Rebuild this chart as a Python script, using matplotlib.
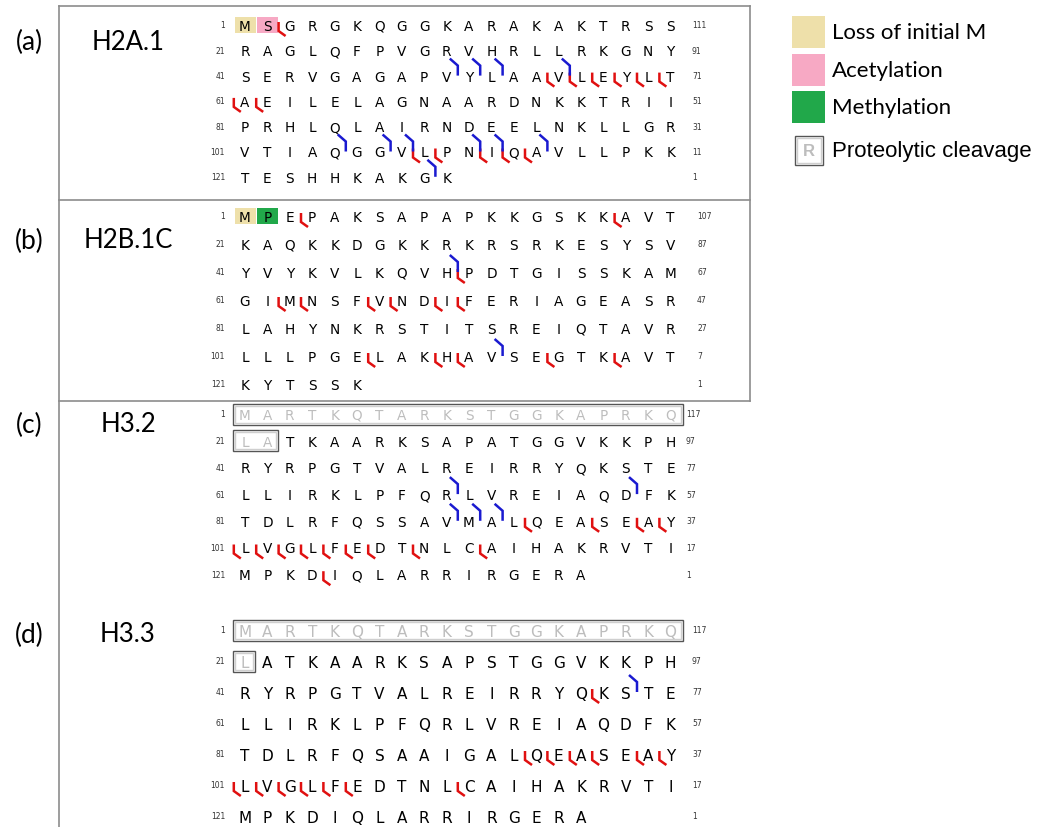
import matplotlib
matplotlib.use("Agg")
import matplotlib.pyplot as plt
from matplotlib.patches import Rectangle

# ---- data ----
names = ["H2A.1", "H2B.1C", "H3.2", "H3.3"]
tags = ["(a)", "(b)", "(c)", "(d)"]

seq_a = "MSGRGKQGGKARAKAKTRSSRAGLQFPVGRVHRLLRKGNYSERVGAGAPVYLAAVLEYLTAEILELAGNAARDNKKTRIIPRHLQLAIRNDEELNKLLGRVTIAQGGVLPNIQAVLLPKKTESHHKAKGK"
seq_b = "MPEPAKSAPAPKKGSKKAVTKAQKKDGKKRKRSRKESYSVYVYKVLKQVHPDTGISSKAMGIMNSFVNDIFERIAGEASRLAHYNKRSTITSREIQTAVRLLLPGELAKHAVSEGTKAVTKYTSSK"
seq_c = "MARTKQTARKSTGGKAPRKQLATKAARKSAPATGGVKKPHRYRPGTVALREIRRYQKSTELLIRKLPFQRLVREIAQDFKTDLRFQSSAVMALQEASEAYLVGLFEDTNLCAIHAKRVTIMPKDIQLARRIRGERA"
seq_d = "MARTKQTARKSTGGKAPRKQLATKAARKSAPSTGGVKKPHRYRPGTVALREIRRYQKSTELLIRKLPFQRLVREIAQDFKTDLRFQSAAIGALQEASEAYLVGLFEDTNLCAIHAKRVTIMPKDIQLARRIRGERA"

left_nums = [1, 21, 41, 61, 81, 101, 121]
right_a = [111, 91, 71, 51, 31, 11, 1]
right_b = [107, 87, 67, 47, 27, 7, 1]
right_c = [117, 97, 77, 57, 37, 17, 1]
right_d = [117, 97, 77, 57, 37, 17, 1]

# cleavage sites: gap g lies between residue g and g+1
red_a = [2, 54, 55, 56, 57, 58, 59, 60, 61, 108, 109, 111, 112, 113]
blue_a = [50, 51, 52, 55, 105, 107, 108, 111, 112, 114, 129]
red_b = [3, 17, 50, 62, 63, 66, 67, 69, 70, 106, 109, 110, 114, 117]
blue_b = [50, 112]
red_c = [93, 96, 98, 99, 100, 101, 102, 103, 104, 105, 106, 108, 111, 124]
blue_c = [70, 78, 90, 91, 92]
red_d = [56, 93, 94, 95, 96, 98, 99, 100, 101, 102, 103, 104, 105, 110]
blue_d = [58]

# modified residues (1-based) and N-terminal cleaved length
mods_a = {1: "loss", 2: "acet"}
mods_b = {1: "loss", 2: "meth"}
cleaved_c = 22
cleaved_d = 21

legend_labels = ["Loss of initial M", "Acetylation", "Methylation", "Proteolytic cleavage"]

# ---- styles / layout ----
colors = {"loss": "#eee0aa", "acet": "#f7a9c4", "meth": "#21a84a"}
RED = "#e01010"
BLUE = "#1a1ad0"
X0 = 245
DX = 22.4
PER_ROW = 20

panels = [
    dict(seq=seq_a, right=right_a, red=red_a, blue=blue_a, mods=mods_a, cut=0,
         y0=26, dy=25.3, fs=9.8, rx=692, ty=42),
    dict(seq=seq_b, right=right_b, red=red_b, blue=blue_b, mods=mods_b, cut=0,
         y0=217, dy=28.0, fs=9.8, rx=697, ty=241),
    dict(seq=seq_c, right=right_c, red=red_c, blue=blue_c, mods={}, cut=cleaved_c,
         y0=415, dy=26.7, fs=9.8, rx=686, ty=425),
    dict(seq=seq_d, right=right_d, red=red_d, blue=blue_d, mods={}, cut=cleaved_d,
         y0=631, dy=31.0, fs=11.0, rx=692, ty=635),
]

fig = plt.figure(figsize=(10.37, 8.28), dpi=100)
ax = fig.add_axes([0, 0, 1, 1])
ax.set_xlim(0, 1037)
ax.set_ylim(828, 0)
ax.axis("off")

# frame
fc = "#8c8c8c"
ax.plot([59, 59], [7, 828], color=fc, lw=1.2)
ax.plot([750, 750], [7, 402], color=fc, lw=1.2)
for yy in [7, 201, 402]:
    ax.plot([59, 750], [yy, yy], color=fc, lw=1.2)


def pos(p, i):
    # i is 1-based residue number
    r = (i - 1) // PER_ROW
    c = (i - 1) % PER_ROW
    return X0 + c * DX, p["y0"] + r * p["dy"]


def cleave_box(x1, x2, y, h):
    ax.add_patch(Rectangle((x1, y - h / 2), x2 - x1, h, fill=False,
                           ec="#555555", lw=1.0, zorder=3))
    ax.add_patch(Rectangle((x1 + 2, y - h / 2 + 2), x2 - x1 - 4, h - 4, fill=False,
                           ec="#cfcfcf", lw=1.0, zorder=3))


for k, p in enumerate(panels):
    seq = p["seq"]
    n_rows = (len(seq) + PER_ROW - 1) // PER_ROW
    # labels
    ax.text(29, p["ty"], tags[k], fontsize=19, family="Lato", ha="center", va="center")
    ax.text(128, p["ty"], names[k], fontsize=18.5, family="Lato", ha="center", va="center")
    for r in range(n_rows):
        y = p["y0"] + r * p["dy"]
        ax.text(225, y, str(left_nums[r]), fontsize=5.5, ha="right", va="center", color="#333333")
        ax.text(p["rx"], y, str(p["right"][r]), fontsize=5.5, ha="left", va="center", color="#333333")
    # modification highlights
    for i, m in p["mods"].items():
        x, y = pos(p, i)
        ax.add_patch(Rectangle((x - 10.5, y - 8), 21, 16, color=colors[m], zorder=1, lw=0))
    # cleaved N-terminal part
    if p["cut"]:
        nfull = p["cut"] // PER_ROW
        for r in range(nfull):
            y = p["y0"] + r * p["dy"]
            cleave_box(X0 - DX / 2 - 1, X0 + (PER_ROW - 1) * DX + DX / 2 + 1, y, 21)
        rest = p["cut"] - nfull * PER_ROW
        if rest:
            y = p["y0"] + nfull * p["dy"]
            cleave_box(X0 - DX / 2 - 1, X0 + (rest - 1) * DX + DX / 2 - 1, y, 21)
    # letters, placed on a baseline half a cap height below the row centre
    half_cap = p["fs"] * 100 / 72 * 0.73 / 2
    for i, aa in enumerate(seq, start=1):
        x, y = pos(p, i)
        col = "#bdbdbd" if i <= p["cut"] else "black"
        ax.text(x, y + half_cap, aa, fontsize=p["fs"], ha="center", va="baseline", color=col,
                zorder=4, family="DejaVu Sans")
    # red marks: left of residue g+1, hanging below
    for g in p["red"]:
        x, y = pos(p, g + 1)
        xg = x - DX / 2
        ax.plot([xg, xg, xg + 7], [y - 3, y + 6, y + 11], color=RED, lw=1.8,
                solid_capstyle="butt", solid_joinstyle="miter", zorder=5)
    # blue marks: right of residue g, coming from above
    for g in p["blue"]:
        x, y = pos(p, g)
        xg = x + DX / 2
        ax.plot([xg - 8, xg, xg], [y - 17, y - 10, y], color=BLUE, lw=1.8,
                solid_capstyle="butt", solid_joinstyle="miter", zorder=5)

# legend
sw = [("loss", 17), ("acet", 55), ("meth", 92)]
for (key, top), lab in zip(sw, legend_labels[:3]):
    ax.add_patch(Rectangle((792, top), 33, 32, color=colors[key], lw=0))
    ax.text(832, top + 16, lab, fontsize=16, family="Lato", ha="left", va="center")
ax.add_patch(Rectangle((795, 137), 28, 29, fill=False, ec="#555555", lw=1.0))
ax.add_patch(Rectangle((797, 139), 24, 25, fill=False, ec="#cfcfcf", lw=1.0))
ax.text(809, 151.5, "R", fontsize=12, color="#bdbdbd", ha="center", va="center",
        family="Liberation Sans", weight="bold")
ax.text(832, 151, legend_labels[3], fontsize=16, family="Liberation Sans", ha="left", va="center")

fig.savefig("out.png", dpi=100)
